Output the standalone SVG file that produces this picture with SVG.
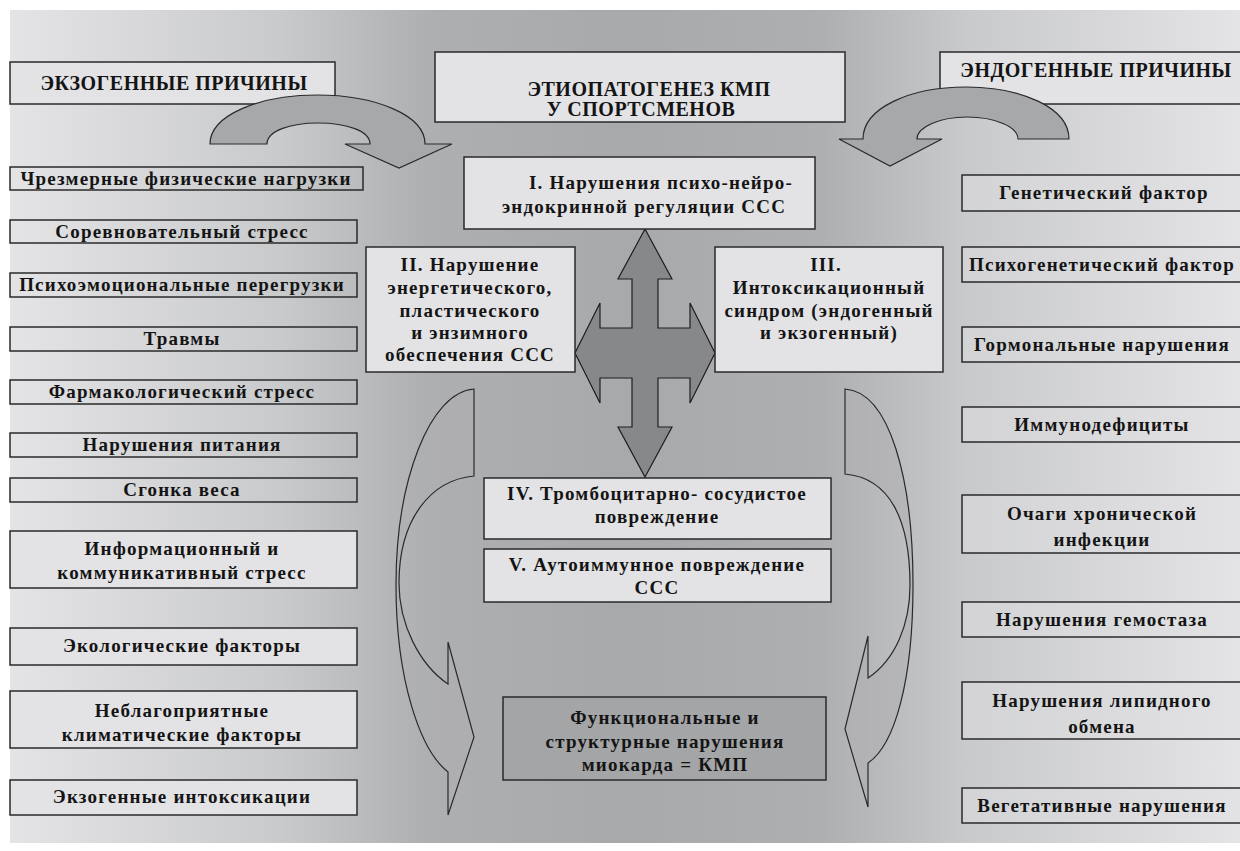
<svg xmlns="http://www.w3.org/2000/svg" width="1240" height="851" viewBox="0 0 1240 851">
<defs>
<linearGradient id="bg" x1="0" y1="0" x2="1" y2="0">
<stop offset="0" stop-color="#e4e4e6"/>
<stop offset="0.22" stop-color="#c9cacc"/>
<stop offset="0.34" stop-color="#aeafb1"/>
<stop offset="0.5" stop-color="#a8a9ab"/>
<stop offset="0.66" stop-color="#aeafb1"/>
<stop offset="0.78" stop-color="#c9cacc"/>
<stop offset="1" stop-color="#e4e4e6"/>
</linearGradient>
<style>
.box{fill:#e3e3e5;stroke:#2a2a2a;stroke-width:1.5}
.sbox{fill:none;stroke:#2a2a2a;stroke-width:1.5}
.rbox{fill:#e0e0e2;fill-opacity:0.45;stroke:#2a2a2a;stroke-width:1.5}
.dbox{fill:#a4a5a7;stroke:#2a2a2a;stroke-width:1.5}
text{font-family:'Liberation Serif','Times New Roman',serif;font-weight:bold;fill:#141414;text-anchor:middle;font-size:19px;letter-spacing:1.2px}
.h{font-size:20px;letter-spacing:0.5px}
.arc{fill:#a7a8aa;stroke:#2a2a2a;stroke-width:1.2}
.cross{fill:#87888a;stroke:#1e1e1e;stroke-width:1.2}
.long{fill:#aeafb1;fill-opacity:0.55;stroke:#2a2a2a;stroke-width:1.2}
</style>
</defs>
<rect x="10" y="10" width="1230" height="833" fill="url(#bg)"/>

<g id="exo-title"><rect class="box" x="10" y="62" width="325" height="42"/><text class="h" x="174" y="90">ЭКЗОГЕННЫЕ ПРИЧИНЫ</text></g>
<g id="main-title"><rect class="box" x="435" y="52" width="410" height="70"/><text class="h" x="649" y="96">ЭТИОПАТОГЕНЕЗ КМП</text><text class="h" x="641" y="116">У СПОРТСМЕНОВ</text></g>
<g id="endo-title"><rect class="box" x="940" y="52" width="305" height="52"/><text class="h" x="1096" y="77">ЭНДОГЕННЫЕ ПРИЧИНЫ</text></g>

<g id="connectors">
<path id="arc-left" class="arc" d="M210,144 C210,115 260,95 317,95 C375,95 425,115 425,144 L452,144 L399,168 L345,144 L370,144 C370,131 347,123 318,123 C290,123 267,131 267,144 Z"/>
<path id="arc-right" class="arc" d="M1069,139 C1069,108 1022,87 966,87 C910,87 863,108 863,139 L839,139 L890,166 L942,139 L917,139 C917,127 940,117 967,117 C995,117 1018,127 1018,139 Z"/>
<path id="cross" class="cross" d="M645,229 L672,279 L658,279 L658,328 L690,328 L690,303 L715,353 L690,403 L690,378 L658,378 L658,427 L672,427 L645,477 L618,427 L632,427 L632,378 L600,378 L600,403 L575,353 L600,303 L600,328 L632,328 L632,279 L618,279 Z"/>
<path id="long-left" class="long" d="M474,389 L474,476 C430,480 399,520 399,583 C399,625 420,665 448,684 L448,642 L474,737 L448,815 L448,772 C420,750 396,680 396,585 C396,480 430,392 474,389 Z"/>
<path id="long-right" class="long" d="M845,389 L845,474 C890,478 910,520 910,585 C910,625 895,660 868,678 L868,636 L845,729 L868,807 L868,763 C895,745 913,680 913,585 C913,480 890,392 845,389 Z"/>
</g>

<g id="n1"><rect class="box" x="464" y="157" width="351" height="72"/><text x="661" y="189">I. Нарушения психо-нейро-</text><text x="644" y="213">эндокринной регуляции ССС</text></g>
<g id="n2"><rect class="box" x="366" y="247" width="209" height="125"/><text x="470" y="271">II. Нарушение</text><text x="470" y="294">энергетического,</text><text x="470" y="317">пластического</text><text x="470" y="339">и энзимного</text><text x="470" y="361">обеспечения ССС</text></g>
<g id="n3"><rect class="box" x="715" y="247" width="228" height="125"/><text x="826" y="271">III.</text><text x="829" y="294">Интоксикационный</text><text x="829" y="317">синдром (эндогенный</text><text x="829" y="339">и экзогенный)</text></g>
<g id="n4"><rect class="box" x="484" y="478" width="347" height="61"/><text x="657" y="500">IV. Тромбоцитарно- сосудистое</text><text x="657" y="523">повреждение</text></g>
<g id="n5"><rect class="box" x="484" y="549" width="347" height="53"/><text x="657" y="571">V. Аутоиммунное повреждение</text><text x="657" y="594">ССС</text></g>
<g id="result"><rect class="dbox" x="503" y="697" width="323" height="83"/><text x="665" y="724">Функциональные и</text><text x="665" y="748">структурные нарушения</text><text x="665" y="771">миокарда = КМП</text></g>

<g id="exo1"><rect class="sbox" x="10" y="167" width="353" height="23"/><text x="186" y="185">Чрезмерные физические нагрузки</text></g>
<g id="exo2"><rect class="sbox" x="10" y="220" width="347" height="23"/><text x="182" y="238">Соревновательный стресс</text></g>
<g id="exo3"><rect class="sbox" x="10" y="273" width="347" height="24"/><text x="182" y="291">Психоэмоциональные перегрузки</text></g>
<g id="exo4"><rect class="sbox" x="10" y="327" width="347" height="24"/><text x="182" y="345">Травмы</text></g>
<g id="exo5"><rect class="sbox" x="10" y="380" width="347" height="24"/><text x="182" y="398">Фармакологический стресс</text></g>
<g id="exo6"><rect class="sbox" x="10" y="433" width="347" height="24"/><text x="182" y="451">Нарушения питания</text></g>
<g id="exo7"><rect class="sbox" x="10" y="478" width="347" height="24"/><text x="182" y="496">Сгонка веса</text></g>
<g id="exo8"><rect class="box" x="10" y="531" width="347" height="57"/><text x="182" y="555">Информационный и</text><text x="182" y="579">коммуникативный стресс</text></g>
<g id="exo9"><rect class="box" x="10" y="628" width="347" height="37"/><text x="182" y="652">Экологические факторы</text></g>
<g id="exo10"><rect class="box" x="10" y="691" width="347" height="57"/><text x="182" y="717">Неблагоприятные</text><text x="182" y="741">климатические факторы</text></g>
<g id="exo11"><rect class="box" x="10" y="780" width="347" height="35"/><text x="182" y="803">Экзогенные интоксикации</text></g>

<g id="endo1"><rect class="rbox" x="962" y="175" width="283" height="36"/><text x="1104" y="199">Генетический фактор</text></g>
<g id="endo2"><rect class="rbox" x="962" y="247" width="283" height="35"/><text x="1102" y="271">Психогенетический фактор</text></g>
<g id="endo3"><rect class="rbox" x="962" y="327" width="283" height="35"/><text x="1102" y="351">Гормональные нарушения</text></g>
<g id="endo4"><rect class="rbox" x="962" y="407" width="283" height="35"/><text x="1102" y="431">Иммунодефициты</text></g>
<g id="endo5"><rect class="rbox" x="962" y="495" width="283" height="58"/><text x="1102" y="520">Очаги хронической</text><text x="1102" y="546">инфекции</text></g>
<g id="endo6"><rect class="rbox" x="962" y="602" width="283" height="35"/><text x="1102" y="626">Нарушения гемостаза</text></g>
<g id="endo7"><rect class="rbox" x="962" y="682" width="283" height="57"/><text x="1102" y="707">Нарушения липидного</text><text x="1102" y="733">обмена</text></g>
<g id="endo8"><rect class="rbox" x="962" y="788" width="283" height="35"/><text x="1102" y="812">Вегетативные нарушения</text></g>
</svg>
